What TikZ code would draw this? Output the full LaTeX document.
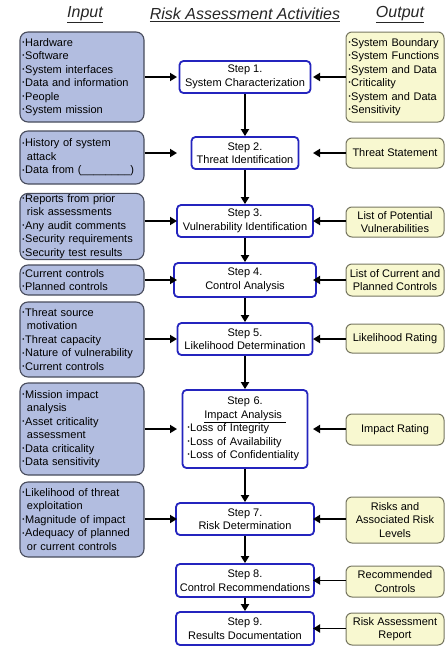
\documentclass[tikz,border=0pt]{standalone}
\usepackage{fontspec}
\setmainfont{Liberation Sans}
\usetikzlibrary{arrows.meta,positioning}
\definecolor{inblue}{RGB}{178,189,224}
\definecolor{inedge}{RGB}{72,76,92}
\definecolor{outyellow}{RGB}{248,248,208}
\definecolor{outedge}{RGB}{118,118,96}
\definecolor{stepblue}{RGB}{36,36,190}
\newcommand{\bul}{\raisebox{0.3ex}{\scalebox{0.55}{\textbullet}}\hspace{0.6pt}}
\newcommand{\ind}{\hspace*{4.5pt}}

\begin{document}
\begin{tikzpicture}[x=1pt,y=-1pt,
  every node/.style={font=\fontsize{11}{13.5}\selectfont},
  inbox/.style={draw=inedge,line width=1.1pt,fill=inblue,rounded corners=8pt,
    text width=119pt,align=left,inner xsep=2.5pt,inner ysep=1pt},
  outbox/.style={draw=outedge,line width=1pt,fill=outyellow,rounded corners=6pt,
    minimum width=98pt,align=center,inner sep=1pt},
  stepbox/.style={draw=stepblue,line width=1.8pt,fill=white,rounded corners=4pt,
    align=center,inner sep=1pt},
  arr/.style={line width=1.8pt,-{Triangle[length=7pt,width=8pt]}},
  head/.style={font=\fontsize{16}{19}\selectfont\itshape,text=black!85}]
  \useasboundingbox (0,0) rectangle (445,646);
  % Column titles
  \node[head] (hin) at (85,15) {\underline{Input}};
  \node[head] (hact) at (245,15) {\underline{Risk Assessment Activities}};
  \node[head] (hout) at (400,15) {\underline{Output}};
  % Input boxes
  \node[inbox,minimum height=90pt] (in1) at (82,77)
    {\bul Hardware\\ \bul Software\\ \bul System interfaces\\ \bul Data and information\\ \bul People\\ \bul System mission};
  \node[inbox,minimum height=53pt] (in2) at (82,157.5)
    {\bul History of system\\ \ind attack\\ \bul Data from (\_\_\_\_\_\_\_\_)};
  \node[inbox,minimum height=65pt] (in3) at (82,226.5)
    {\bul Reports from prior\\ \ind risk assessments\\ \bul Any audit comments\\ \bul Security requirements\\ \bul Security test results};
  \node[inbox,minimum height=30pt] (in4) at (82,280)
    {\bul Current controls\\ \bul Planned controls};
  \node[inbox,minimum height=75pt] (in5) at (82,339.5)
    {\bul Threat source\\ \ind motivation\\ \bul Threat capacity\\ \bul Nature of vulnerability\\ \bul Current controls};
  \node[inbox,minimum height=92pt] (in6) at (82,429)
    {\bul Mission impact\\ \ind analysis\\ \bul Asset criticality\\ \ind assessment\\ \bul Data criticality\\ \bul Data sensitivity};
  \node[inbox,minimum height=75pt] (in7) at (82,519.5)
    {\bul Likelihood of threat\\ \ind exploitation\\ \bul Magnitude of impact\\ \bul Adequacy of planned\\ \ind or current controls};
  % Steps
  \node[stepbox,minimum width=131pt,minimum height=32pt] (s1) at (245,77) {Step 1.\\ System Characterization};
  \node[stepbox,minimum width=107pt,minimum height=32pt] (s2) at (245,153) {Step 2.\\ Threat Identification};
  \node[stepbox,minimum width=136pt,minimum height=32pt] (s3) at (245,221) {Step 3.\\ Vulnerability Identification};
  \node[stepbox,minimum width=142pt,minimum height=34pt] (s4) at (245,280) {Step 4.\\ Control Analysis};
  \node[stepbox,minimum width=135pt,minimum height=32pt] (s5) at (245,339) {Step 5.\\ Likelihood Determination};
  \node[stepbox,minimum width=125pt,minimum height=78pt,text width=115pt,align=left] (s6) at (245,429)
    {{\centering Step 6.\\ \underline{Impact Analysis\ }\par}\bul Loss of Integrity\\ \bul Loss of Availability\\ \bul Loss of Confidentiality};
  \node[stepbox,minimum width=138pt,minimum height=32pt] (s7) at (245,519) {Step 7.\\ Risk Determination};
  \node[stepbox,minimum width=138pt,minimum height=33pt] (s8) at (245,580.5) {Step 8.\\ Control Recommendations};
  \node[stepbox,minimum width=138pt,minimum height=33pt] (s9) at (245,628.5) {Step 9.\\ Results Documentation};
  % Output boxes
  \node[outbox,minimum height=90pt,text width=93pt,align=left,inner xsep=2.5pt] (out1) at (395,77)
    {\bul System Boundary\\ \bul System Functions\\ \bul System and Data\\ \bul Criticality\\ \bul System and Data\\ \bul Sensitivity};
  \node[outbox,minimum height=30pt] (out2) at (395,153) {Threat Statement};
  \node[outbox,minimum height=30pt] (out3) at (395,222) {List of Potential\\ Vulnerabilities};
  \node[outbox,minimum height=32pt] (out4) at (395,280) {List of Current and\\ Planned Controls};
  \node[outbox,minimum height=29pt] (out5) at (395,338.5) {Likelihood Rating};
  \node[outbox,minimum height=31pt] (out6) at (395,429.5) {Impact Rating};
  \node[outbox,minimum height=46pt] (out7) at (395,520) {Risks and\\ Associated Risk\\ Levels};
  \node[outbox,minimum height=31pt] (out8) at (395,581.5) {Recommended\\ Controls};
  \node[outbox,minimum height=32pt] (out9) at (395,629) {Risk Assessment\\ Report};
  % Arrow tips beside the steps
  \coordinate (ltip) at (177,0);
  \coordinate (rtip) at (313,0);
  % Flow down the steps
  \draw[arr] (s1.south) -- (s2.north);
  \draw[arr] (s2.south) -- (s3.north);
  \draw[arr] (s3.south) -- (s4.north);
  \draw[arr] (s4.south) -- (s5.north);
  \draw[arr] (s5.south) -- (s6.north);
  \draw[arr] (s6.south) -- (s7.north);
  \draw[arr] (s7.south) -- (s8.north);
  \draw[arr] (s8.south) -- (s9.north);
  % Inputs into steps
  \draw[arr] (s1.west -| in1.east) -- (s1.west -| ltip);
  \draw[arr] (s2.west -| in2.east) -- (s2.west -| ltip);
  \draw[arr] (s3.west -| in3.east) -- (s3.west -| ltip);
  \draw[arr] (s4.west -| in4.east) -- (s4.west -| ltip);
  \draw[arr] (s5.west -| in5.east) -- (s5.west -| ltip);
  \draw[arr] (s6.west -| in6.east) -- (s6.west -| ltip);
  \draw[arr] (s7.west -| in7.east) -- (s7.west -| ltip);
  % Outputs from steps
  \draw[arr] (s1.east -| out1.west) -- (s1.east -| rtip);
  \draw[arr] (s2.east -| out2.west) -- (s2.east -| rtip);
  \draw[arr] (s3.east -| out3.west) -- (s3.east -| rtip);
  \draw[arr] (s4.east -| out4.west) -- (s4.east -| rtip);
  \draw[arr] (s5.east -| out5.west) -- (s5.east -| rtip);
  \draw[arr] (s6.east -| out6.west) -- (s6.east -| rtip);
  \draw[arr] (s7.east -| out7.west) -- (s7.east -| rtip);
  \draw[arr] (s8.east -| out8.west) -- (s8.east -| rtip);
  \draw[arr] (s9.east -| out9.west) -- (s9.east -| rtip);
\end{tikzpicture}
\end{document}
